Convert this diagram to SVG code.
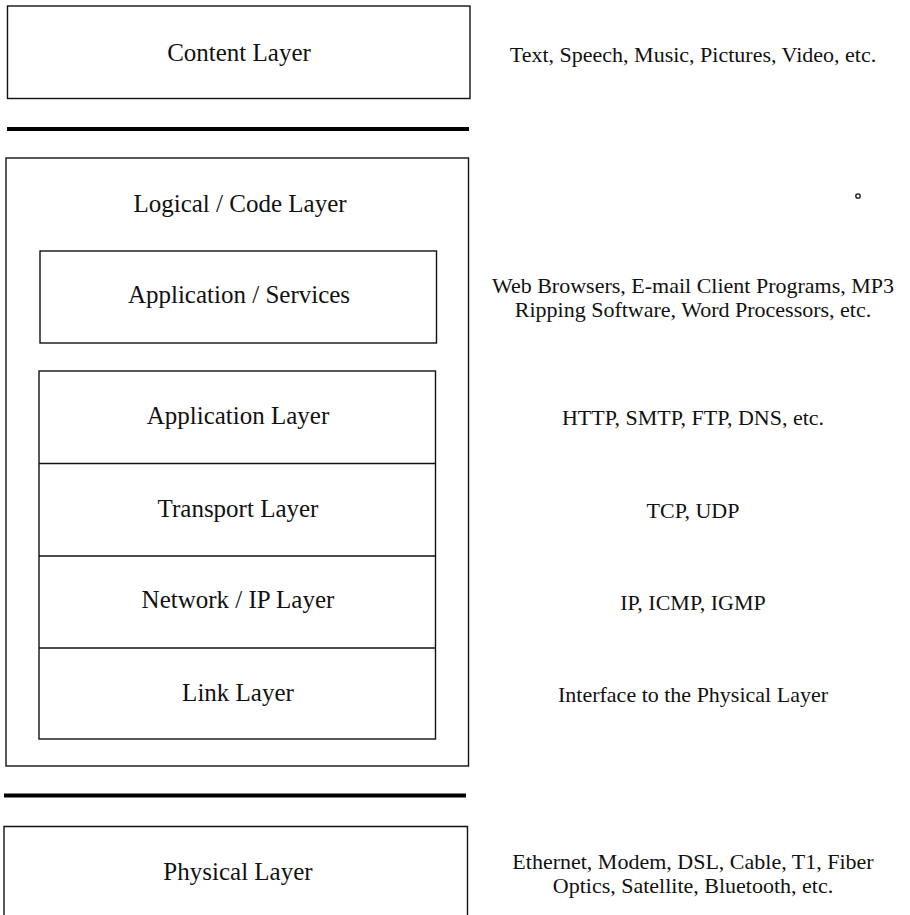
<svg xmlns="http://www.w3.org/2000/svg" width="910" height="915" viewBox="0 0 910 915">
  <style>
    .box { fill: none; stroke: #111; stroke-width: 1.4; }
    .div { stroke: #111; stroke-width: 1.4; }
    .bar { stroke: #000; stroke-width: 4; }
    .lbl { font-family: "Liberation Serif", "DejaVu Serif", serif; font-size: 25px; fill: #111; text-anchor: middle; }
    .note { font-family: "Liberation Serif", "DejaVu Serif", serif; font-size: 22px; fill: #111; text-anchor: middle; }
  </style>
  <rect width="910" height="915" fill="#fff"/>

  <!-- heavy separators between the three tiers -->
  <g id="separators">
    <line class="bar" x1="7" y1="129" x2="469" y2="129"/>
    <line class="bar" x1="4" y1="795.5" x2="466" y2="795.5"/>
  </g>

  <g id="content-layer">
    <rect class="box" x="7.5" y="6" width="462.5" height="92.5"/>
    <text class="lbl" x="239" y="61">Content Layer</text>
    <text class="note" x="693" y="62">Text, Speech, Music, Pictures, Video, etc.</text>
  </g>

  <g id="logical-layer">
    <rect class="box" x="6" y="158" width="462.5" height="608"/>
    <text class="lbl" x="240" y="212">Logical / Code Layer</text>
  </g>

  <g id="app-services">
    <rect class="box" x="40" y="251" width="396.5" height="92"/>
    <text class="lbl" x="239" y="303">Application / Services</text>
    <text class="note" x="693" y="293">Web Browsers, E-mail Client Programs, MP3</text>
    <text class="note" x="693" y="317">Ripping Software, Word Processors, etc.</text>
  </g>

  <!-- protocol stack: four stacked rows in one frame -->
  <g id="protocol-stack">
    <rect class="box" x="39" y="371" width="396.5" height="368"/>
    <line class="div" x1="39" y1="463.5" x2="435.5" y2="463.5"/>
    <line class="div" x1="39" y1="556" x2="435.5" y2="556"/>
    <line class="div" x1="39" y1="648" x2="435.5" y2="648"/>
  </g>

  <g id="application-layer">
    <text class="lbl" x="238" y="424">Application Layer</text>
    <text class="note" x="693" y="425">HTTP, SMTP, FTP, DNS, etc.</text>
  </g>

  <g id="transport-layer">
    <text class="lbl" x="238" y="517">Transport Layer</text>
    <text class="note" x="693" y="518">TCP, UDP</text>
  </g>

  <g id="network-layer">
    <text class="lbl" x="238" y="608">Network / IP Layer</text>
    <text class="note" x="693" y="610">IP, ICMP, IGMP</text>
  </g>

  <g id="link-layer">
    <text class="lbl" x="238" y="701">Link Layer</text>
    <text class="note" x="693" y="702">Interface to the Physical Layer</text>
  </g>

  <g id="physical-layer">
    <path class="box" d="M4,930 V826.5 H467.5 V930"/>
    <text class="lbl" x="238" y="880">Physical Layer</text>
    <text class="note" x="693" y="869">Ethernet, Modem, DSL, Cable, T1, Fiber</text>
    <text class="note" x="693" y="893">Optics, Satellite, Bluetooth, etc.</text>
  </g>

  <circle cx="858" cy="196" r="2.2" fill="none" stroke="#111" stroke-width="1.3"/>
</svg>
